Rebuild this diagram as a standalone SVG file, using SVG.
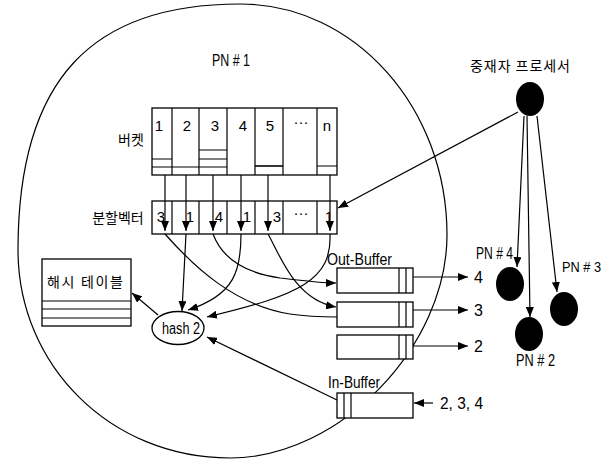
<svg xmlns="http://www.w3.org/2000/svg" width="613" height="459" viewBox="0 0 613 459">
<style>
.ln{fill:none;stroke:#000;stroke-width:1.2}
.bx{fill:#fff;stroke:#000;stroke-width:1.3}
.ar{fill:none;stroke:#000;stroke-width:1.2;marker-end:url(#ah)}
.dot{fill:#000}
.t{font-family:"Liberation Sans",Arial,sans-serif;fill:#000}
.k{font-family:"Noto Sans CJK KR","Noto Sans CJK SC",sans-serif;fill:#000}
</style>
<defs>
<marker id="ah" markerWidth="10" markerHeight="8" refX="10" refY="4" orient="auto" markerUnits="userSpaceOnUse">
<path d="M0,0 L10,4 L0,8 z" fill="#000"/>
</marker>
</defs>
<rect width="613" height="459" fill="#fff"/>
<g id="pn1">
<path class="ln" d="M240,4 C355,4 447,108 447,235 C447,346 340,458 230,458 C110,458 18,365 18,250 C18,78 93,4 240,4 Z"/>
<text class="t" x="212" y="66" font-size="17" textLength="38" lengthAdjust="spacingAndGlyphs">PN # 1</text>
</g>
<g id="bucket">
<rect class="bx" x="152" y="108" width="185" height="67"/>
<path class="ln" d="M172,108V175M199,108V175M227,108V175M255,108V175M283,108V175M317,108V175"/>
<path class="ln" d="M152,159H172M152,167H172M172,167H199M199,150H227M199,159H227M199,167H227M317,166H337"/>
<path d="M255,166H283" stroke="#000" stroke-width="1.6"/>
<g class="t" font-size="15" text-anchor="middle">
<text x="159" y="131">1</text><text x="187" y="131">2</text><text x="215" y="131">3</text><text x="243" y="131">4</text><text x="270" y="131">5</text><text x="301" y="127">···</text><text x="327" y="131">n</text>
</g>
<text class="k" x="131" y="145" font-size="14" text-anchor="middle">버켓</text>
</g>
<g id="partition">
<rect class="bx" x="152" y="201" width="185" height="33"/>
<path class="ln" d="M172,201V234M199,201V234M227,201V234M255,201V234M283,201V234M317,201V234"/>
<g class="t" font-size="15" text-anchor="middle">
<text x="161" y="222">3</text><text x="190" y="222">1</text><text x="219" y="222">4</text><text x="247" y="222">1</text><text x="277" y="222">3</text><text x="301" y="218">···</text><text x="329" y="222">1</text>
</g>
<text class="k" x="118" y="223" font-size="14" text-anchor="middle">분할벡터</text>
</g>
<g id="hashtable">
<rect class="bx" x="42" y="259" width="89" height="67"/>
<path class="ln" d="M42,301H131M42,309H131M42,318H131"/>
<text class="k" x="47" y="287" font-size="14" textLength="76" lengthAdjust="spacing">해시 테이블</text>
</g>
<g id="hash2">
<ellipse class="bx" cx="178" cy="328" rx="26" ry="16.5"/>
<text class="t" x="162" y="334" font-size="16" textLength="38" lengthAdjust="spacingAndGlyphs">hash 2</text>
</g>
<g id="outbuffer">
<text class="t" x="327" y="265" font-size="16" textLength="65" lengthAdjust="spacingAndGlyphs">Out-Buffer</text>
<rect class="bx" x="337" y="268" width="76" height="25"/>
<path class="ln" d="M399,268V293M406,268V293"/>
<rect class="bx" x="337" y="302" width="76" height="25"/>
<path class="ln" d="M399,302V327M406,302V327"/>
<rect class="bx" x="337" y="335" width="76" height="24"/>
<path class="ln" d="M399,335V359M406,335V359"/>
</g>
<g id="inbuffer">
<text class="t" x="328" y="388" font-size="16" textLength="52" lengthAdjust="spacingAndGlyphs">In-Buffer</text>
<rect class="bx" x="337" y="393" width="76" height="25"/>
<path class="ln" d="M344,393V418M351,393V418"/>
</g>
<g id="mediator">
<ellipse class="dot" cx="530" cy="99" rx="14" ry="17"/>
<text class="k" x="470" y="71" font-size="14" textLength="100" lengthAdjust="spacing">중재자 프로세서</text>
</g>
<g id="pn4">
<ellipse class="dot" cx="510" cy="284" rx="14" ry="17"/>
<text class="t" x="476" y="259" font-size="17" textLength="37" lengthAdjust="spacingAndGlyphs">PN # 4</text>
</g>
<g id="pn2">
<ellipse class="dot" cx="529" cy="334" rx="14" ry="17"/>
<text class="t" x="516" y="366" font-size="17" textLength="39" lengthAdjust="spacingAndGlyphs">PN # 2</text>
</g>
<g id="pn3">
<ellipse class="dot" cx="564" cy="309" rx="14" ry="17"/>
<text class="t" x="562" y="272" font-size="15" textLength="39" lengthAdjust="spacingAndGlyphs">PN # 3</text>
</g>
<g id="labels">
<text class="t" x="474" y="283" font-size="16">4</text>
<text class="t" x="474" y="316" font-size="16">3</text>
<text class="t" x="474" y="352" font-size="16">2</text>
<text class="t" x="440" y="409" font-size="16" textLength="43" lengthAdjust="spacingAndGlyphs">2, 3, 4</text>
</g>
<g id="connectors">
<path class="ar" d="M165,175V231"/>
<path class="ar" d="M186,175V231"/>
<path class="ar" d="M213,175V231"/>
<path class="ar" d="M241,175V231"/>
<path class="ar" d="M268,175V231"/>
<path class="ar" d="M330,175V231"/>
<path class="ln" d="M165,234 C195,268 235,305 290,314 C310,317 325,317 337,317"/>
<path class="ar" d="M186,234 L182,311"/>
<path class="ar" d="M213,234 C222,258 245,273 280,278 C305,281 320,283 336,283"/>
<path class="ar" d="M241,234 C241,270 235,295 188,310"/>
<path class="ar" d="M268,234 C280,255 295,300 336,307"/>
<path class="ar" d="M330,234 C332,280 300,295 207,317"/>
<path class="ar" d="M158,315 L132,293"/>
<path class="ar" d="M337,400 L207,337"/>
<path class="ar" d="M518,112 L338,208"/>
<path class="ar" d="M524,116 L517,267"/>
<path class="ar" d="M527,116 L530,317"/>
<path class="ar" d="M537,116 L557,292"/>
<path class="ar" d="M413,277H468"/>
<path class="ar" d="M413,310H468"/>
<path class="ar" d="M413,346H468"/>
<path class="ar" d="M433,403H414"/>
</g>
</svg>
